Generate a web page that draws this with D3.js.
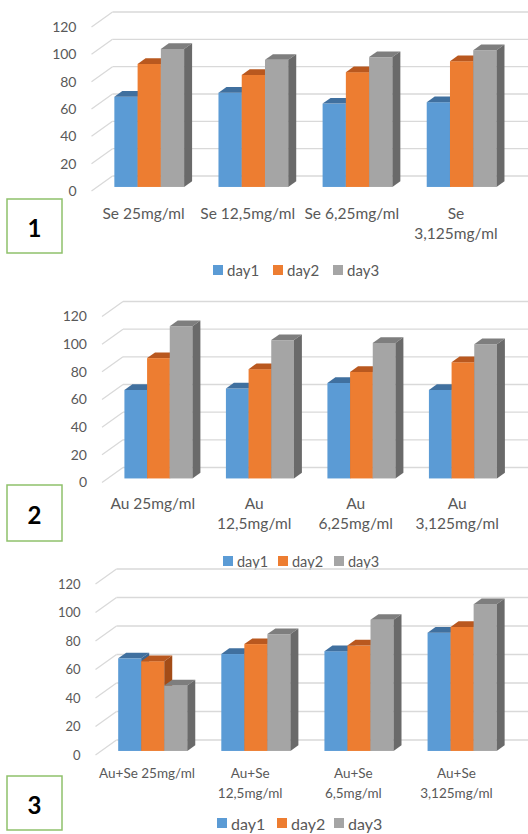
<!DOCTYPE html>
<html>
<head>
<meta charset="utf-8">
<script src="https://cdn.jsdelivr.net/npm/d3@7"></script>
<style>
  html, body { margin: 0; padding: 0; background: #fff; }
  svg { display: block; font-family: Lato, "Open Sans", sans-serif; }
</style>
</head>
<body>
<svg id="chart" width="528" height="834"></svg>
<script>
// Series and axis
const seriesNames = ["day1", "day2", "day3"];
const yTicks = [0, 20, 40, 60, 80, 100, 120];

// Panel 1 — Se
const seCats = [["Se 25mg/ml"], ["Se 12,5mg/ml"], ["Se 6,25mg/ml"], ["Se", "3,125mg/ml"]];
const seDay1 = [66, 69, 61, 62];
const seDay2 = [90, 82, 84, 92];
const seDay3 = [101, 93, 95, 100];

// Panel 2 — Au
const auCats = [["Au 25mg/ml"], ["Au", "12,5mg/ml"], ["Au", "6,25mg/ml"], ["Au", "3,125mg/ml"]];
const auDay1 = [64, 65, 69, 64];
const auDay2 = [87, 79, 77, 84];
const auDay3 = [110, 100, 98, 97];

// Panel 3 — Au+Se
const mixCats = [["Au+Se 25mg/ml"], ["Au+Se", "12,5mg/ml"], ["Au+Se", "6,5mg/ml"], ["Au+Se", "3,125mg/ml"]];
const mixDay1 = [65, 68, 70, 83];
const mixDay2 = [63, 75, 74, 87];
const mixDay3 = [46, 82, 92, 103];

const panelNumbers = ["1", "2", "3"];

const frontColors = ["#5B9BD5", "#ED7D31", "#A5A5A5"];
const topColors = ["#40709F", "#B9581F", "#7E7E7E"];
const sideColors = ["#3A6591", "#A34C17", "#6A6A6A"];

const svg = d3.select("#chart");

// layout of each panel
const panels = [
  { cats: seCats, series: [seDay1, seDay2, seDay3], x0: 91.5, x1: 508, y0: 191, y120: 27,
    tickSize: 14, catSize: 15.5, catY: 213, legY: 270, legSize: 15, legX: [213, 273, 333],
    box: [7, 199, 55, 54] },
  { cats: auCats, series: [auDay1, auDay2, auDay3], x0: 102, x1: 508, y0: 482.5, y120: 316.5,
    tickSize: 14, catSize: 15.5, catY: 503, legY: 561, legSize: 14.5, legX: [223, 278, 334],
    box: [7, 485, 55, 56] },
  { cats: mixCats, series: [mixDay1, mixDay2, mixDay3], x0: 95.5, x1: 508, y0: 755, y120: 584,
    tickSize: 13, catSize: 13.5, catY: 773, legY: 823, legSize: 16, legX: [217, 277, 334],
    box: [7, 776, 55, 54] }
];

// depth of the 3D box and the slice of it the columns occupy
const DX = 21, DY = -15;
const D0 = 0.27, D1 = 0.65;

panels.forEach((p, pi) => {
  const g = svg.append("g");
  const catNames = p.cats.map(c => c.join(" "));

  const y = d3.scaleLinear().domain([0, 120]).range([p.y0, p.y120]);
  const x = d3.scaleBand().domain(catNames).range([p.x0, p.x1]);
  const bw = x.bandwidth();
  const xs = d3.scaleBand().domain(seriesNames).range([0.165 * bw, 0.835 * bw]);

  // side wall and back wall gridlines
  const grid = g.append("g").attr("stroke", "#D9D9D9").attr("stroke-width", 1.3).attr("fill", "none");
  yTicks.forEach(t => {
    grid.append("line")
      .attr("x1", p.x0).attr("y1", y(t))
      .attr("x2", p.x0 + DX).attr("y2", y(t) + DY);
    grid.append("line")
      .attr("x1", p.x0 + DX).attr("y1", y(t) + DY)
      .attr("x2", 528).attr("y2", y(t) + DY);
  });

  // value axis labels
  const axis = d3.axisLeft(y).tickValues(yTicks).tickSize(0).tickPadding(0);
  const ax = g.append("g").attr("transform", `translate(${p.x0 - 15},0)`).call(axis);
  ax.select(".domain").remove();
  ax.selectAll("text")
    .attr("fill", "#595959")
    .style("font-size", p.tickSize + "px")
    .style("font-family", "Lato, sans-serif");

  // columns: front face, top and right side
  const ox = DX * D0, oy = DY * D0;
  const ddx = DX * (D1 - D0), ddy = DY * (D1 - D0);
  catNames.forEach((cat, ci) => {
    seriesNames.forEach((s, si) => {
      const v = p.series[si][ci];
      const xl = x(cat) + xs(s) + ox;
      const xr = xl + xs.bandwidth();
      const yt = y(v) + oy;
      const yb = y(0) + oy;
      const bar = g.append("g");
      bar.append("rect")
        .attr("x", xl).attr("y", yt)
        .attr("width", xr - xl).attr("height", yb - yt)
        .attr("fill", frontColors[si]);
      bar.append("polygon")
        .attr("points", [[xl, yt], [xr, yt], [xr + ddx, yt + ddy], [xl + ddx, yt + ddy]].join(" "))
        .attr("fill", topColors[si]);
      bar.append("polygon")
        .attr("points", [[xr, yt], [xr + ddx, yt + ddy], [xr + ddx, yb + ddy], [xr, yb]].join(" "))
        .attr("fill", sideColors[si]);
    });
  });

  // category labels
  catNames.forEach((cat, ci) => {
    const t = g.append("text")
      .attr("x", x(cat) + bw / 2)
      .attr("y", p.catY)
      .attr("text-anchor", "middle")
      .attr("dominant-baseline", "central")
      .attr("fill", "#595959")
      .style("font-size", p.catSize + "px");
    p.cats[ci].forEach((line, li) => {
      t.append("tspan")
        .attr("x", x(cat) + bw / 2)
        .attr("y", p.catY + li * 20)
        .text(line);
    });
  });

  // legend
  const leg = g.append("g");
  seriesNames.forEach((s, si) => {
    leg.append("rect")
      .attr("x", p.legX[si]).attr("y", p.legY - 5)
      .attr("width", 10).attr("height", 10)
      .attr("fill", frontColors[si]);
    leg.append("text")
      .attr("x", p.legX[si] + 14)
      .attr("y", p.legY)
      .attr("dominant-baseline", "central")
      .attr("fill", "#595959")
      .style("font-size", p.legSize + "px")
      .text(s);
  });

  // panel number box
  const [bx, by, bwid, bh] = p.box;
  g.append("rect")
    .attr("x", bx).attr("y", by)
    .attr("width", bwid).attr("height", bh)
    .attr("fill", "#fff")
    .attr("stroke", "#8FC16B")
    .attr("stroke-width", 1.5);
  g.append("text")
    .attr("x", bx + bwid / 2)
    .attr("y", by + bh / 2 + 1)
    .attr("text-anchor", "middle")
    .attr("dominant-baseline", "central")
    .attr("fill", "#000")
    .style("font-size", "24px")
    .style("font-weight", "bold")
    .text(panelNumbers[pi]);
});
</script>
</body>
</html>
